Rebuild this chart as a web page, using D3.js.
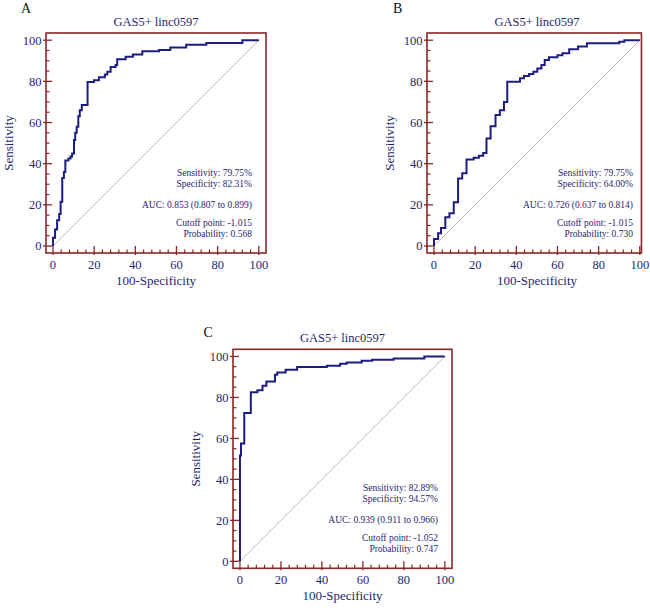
<!DOCTYPE html>
<html><head><meta charset="utf-8">
<script src="https://cdn.jsdelivr.net/npm/d3@7"></script>
<style>
body{margin:0;background:#fff;}
text{font-family:"Liberation Serif","Times New Roman",serif;}
</style></head>
<body><svg id="chart" width="650" height="611"></svg>
<script>
// ---- data ----
const panelLetters = ["A", "B", "C"];
const chartTitle = "GAS5+ linc0597";
const xAxisTitle = "100-Specificity";
const yAxisTitle = "Sensitivity";
const tickValues = [0, 20, 40, 60, 80, 100];

const fprA = [0,0,1,2,3,3.7,4.5,5.3,6,7.5,8.5,9.3,10.2,10.8,11.5,12.3,13,14,16.8,19.9,22.3,25.2,26.4,28,30.4,31.2,35.3,38.8,43.4,51.5,57,64.7,74.5,92,100];
const tprA = [0,4,8,12.5,15.5,21.5,33,36,41.6,42.5,43.5,45,51.5,55,58,63,66,68.5,79.7,80.6,82,83.3,84.7,87,88,90.8,92,93,94.6,95.2,96.4,97.8,98.6,100,100];

const fprB = [0,0,2,3.4,5.5,7.5,9.6,11.7,13.7,15.8,19.3,21.8,23.9,25.5,27.5,29.9,32,34,35.6,41.8,43.7,46.2,48.3,50.2,52.2,53.8,55.9,60,62.4,65.7,70,74.3,90,92.5,100];
const tprB = [0,3.4,6.2,8.8,14,15.9,21.3,32.8,35.4,42,42.9,43.9,45.2,52.2,58.2,63.6,66,70,79.8,81.5,82.6,83.6,84.7,86.3,88,90.4,91.7,92.7,93.7,95.6,96.9,98.5,99.2,100,100];

const fprC = [0,0,0.5,2.1,5.3,8.5,11,12.9,17.1,18.2,22.3,27.9,42.4,48.9,52.1,59.4,64.5,75,90,100];
const tprC = [0,51.7,57.5,72.4,82.5,83.5,85.7,87.8,91.1,92.2,93.5,94.8,95.5,96.4,97.1,97.9,98.4,99,100,100];

const statsA = ["Sensitivity: 79.75%", "Specificity: 82.31%", "AUC: 0.853 (0.807 to 0.899)", "Cutoff point: -1.015", "Probability: 0.568"];
const statsB = ["Sensitivity: 79.75%", "Specificity: 64.00%", "AUC: 0.726 (0.637 to 0.814)", "Cutoff point: -1.015", "Probability: 0.730"];
const statsC = ["Sensitivity: 82.89%", "Specificity: 94.57%", "AUC: 0.939 (0.911 to 0.966)", "Cutoff point: -1.052", "Probability: 0.747"];

// ---- layout ----
const dMin = -3.4, dMax = 103.5;
const panels = [
  {letter: panelLetters[0], fpr: fprA, tpr: tprA, stats: statsA, left: 46, top: 33, size: 220, xMax: dMax, lx: 21, ly: 12.5},
  {letter: panelLetters[1], fpr: fprB, tpr: tprB, stats: statsB, left: 427, top: 33, size: 220, xMax: 100.8, lx: 393, ly: 12.5},
  {letter: panelLetters[2], fpr: fprC, tpr: tprC, stats: statsC, left: 233, top: 349.3, size: 219, xMax: dMax, lx: 203.5, ly: 336.5}
];
const frameColor = "#8b2626";
const textColor = "#1f1f6b";
const lineColor = "#1c1c82";
const statOffsets = [-77, -66.5, -45, -27, -16.5];

const svg = d3.select("#chart");

panels.forEach(p => {
  const unit = p.size / (dMax - dMin);
  const width = (p.xMax - dMin) * unit;
  const x = d3.scaleLinear().domain([dMin, p.xMax]).range([p.left, p.left + width]);
  const y = d3.scaleLinear().domain([dMin, dMax]).range([p.top + p.size, p.top]);
  const bottom = p.top + p.size;
  const g = svg.append("g");

  g.append("text").attr("x", p.lx).attr("y", p.ly).attr("font-size", 14).attr("fill", "#111").text(p.letter);
  g.append("text").attr("x", p.left + p.size / 2).attr("y", p.top - 7).attr("text-anchor", "middle")
    .attr("font-size", 12.5).attr("fill", textColor).text(chartTitle);

  g.append("line").attr("x1", x(0)).attr("y1", y(0)).attr("x2", x(100)).attr("y2", y(100))
    .attr("stroke", "#bcbcbc").attr("stroke-width", 1);

  const xMinor = d3.range(0, 101, 4).filter(v => v % 20 !== 0);
  const yMinor = d3.range(0, 101, 5).filter(v => v % 20 !== 0);
  g.selectAll(null).data(xMinor).join("line")
    .attr("x1", d => x(d)).attr("x2", d => x(d)).attr("y1", bottom).attr("y2", bottom - 3.5)
    .attr("stroke", frameColor).attr("stroke-width", 1.2);
  g.selectAll(null).data(yMinor).join("line")
    .attr("y1", d => y(d)).attr("y2", d => y(d)).attr("x1", p.left).attr("x2", p.left + 3.5)
    .attr("stroke", frameColor).attr("stroke-width", 1.2);
  g.selectAll(null).data(tickValues).join("line")
    .attr("x1", d => x(d)).attr("x2", d => x(d)).attr("y1", bottom + 2).attr("y2", bottom - 7)
    .attr("stroke", frameColor).attr("stroke-width", 1.3);
  g.selectAll(null).data(tickValues).join("line")
    .attr("y1", d => y(d)).attr("y2", d => y(d)).attr("x1", p.left - 3).attr("x2", p.left + 6)
    .attr("stroke", frameColor).attr("stroke-width", 1.3);

  g.append("rect").attr("x", p.left).attr("y", p.top).attr("width", width).attr("height", p.size)
    .attr("fill", "none").attr("stroke", frameColor).attr("stroke-width", 1.6);

  g.selectAll(null).data(tickValues).join("text")
    .attr("x", d => x(d)).attr("y", bottom + 15.5).attr("text-anchor", "middle")
    .attr("font-size", 12.5).attr("fill", textColor).text(d => d);
  g.selectAll(null).data(tickValues).join("text")
    .attr("x", p.left - 4.5).attr("y", d => y(d)).attr("dy", "0.35em").attr("text-anchor", "end")
    .attr("font-size", 12.5).attr("fill", textColor).text(d => d);

  g.append("text").attr("x", p.left + p.size / 2).attr("y", bottom + 31.5).attr("text-anchor", "middle")
    .attr("font-size", 13).attr("fill", textColor).text(xAxisTitle);
  g.append("text").attr("transform", `translate(${p.left - 33.5},${p.top + p.size / 2}) rotate(-90)`)
    .attr("text-anchor", "middle").attr("font-size", 13).attr("fill", textColor).text(yAxisTitle);

  const pts = p.fpr.map((v, i) => [v, p.tpr[i]]);
  const line = d3.line().x(d => x(d[0])).y(d => y(d[1])).curve(d3.curveStepAfter);
  g.append("path").attr("d", line(pts)).attr("fill", "none").attr("stroke", lineColor)
    .attr("stroke-width", 2).attr("stroke-linejoin", "miter");

  const statRight = p.left + p.size - 14;
  g.selectAll(null).data(p.stats).join("text")
    .attr("x", statRight).attr("y", (d, i) => bottom + statOffsets[i]).attr("text-anchor", "end")
    .attr("font-size", 9.5).attr("fill", textColor).text(d => d);
});
</script>
</body></html>
